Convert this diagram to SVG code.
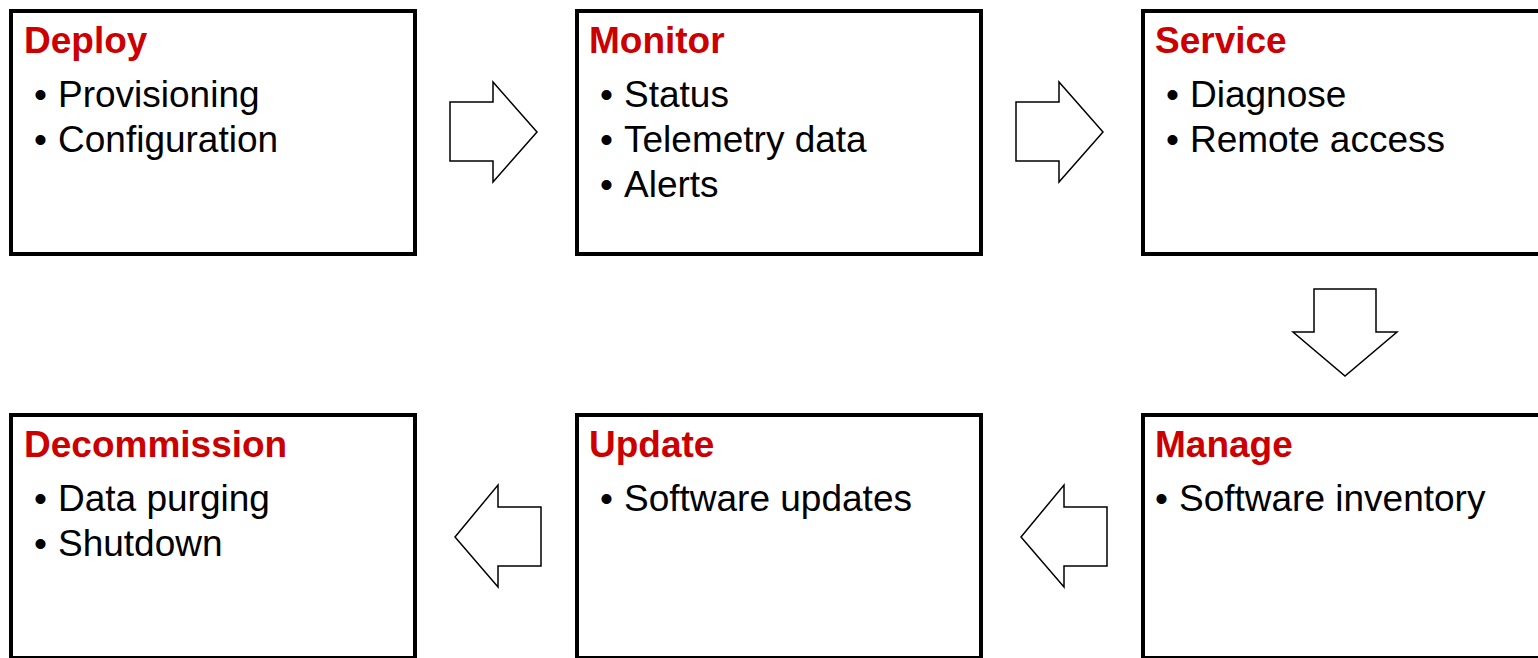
<svg xmlns="http://www.w3.org/2000/svg" width="1538" height="658" viewBox="0 0 1538 658">
<style>
.box{fill:#fff;stroke:#000;stroke-width:4}
.t{font-family:"Liberation Sans",Arial,sans-serif;font-size:37px;font-weight:bold;fill:#cc0000}
.b{font-family:"Liberation Sans",Arial,sans-serif;font-size:37px;fill:#000}
.arr{fill:#fff;stroke:#000;stroke-width:1.5;stroke-linejoin:miter}
</style>
<rect width="1538" height="658" fill="#fff"/>
<g id="deploy">
<rect class="box" x="11" y="11" width="404" height="243"/>
<text class="t" x="24" y="53">Deploy</text>
<text class="b" x="34" y="107">•</text><text class="b" x="58" y="107">Provisioning</text>
<text class="b" x="34" y="152">•</text><text class="b" x="58" y="152">Configuration</text>
</g>
<g id="monitor">
<rect class="box" x="577" y="11" width="404" height="243"/>
<text class="t" x="589" y="53">Monitor</text>
<text class="b" x="600" y="107">•</text><text class="b" x="624" y="107">Status</text>
<text class="b" x="600" y="152">•</text><text class="b" x="624" y="152">Telemetry data</text>
<text class="b" x="600" y="197">•</text><text class="b" x="624" y="197">Alerts</text>
</g>
<g id="service">
<rect class="box" x="1143" y="11" width="404" height="243"/>
<text class="t" x="1155" y="53">Service</text>
<text class="b" x="1166" y="107">•</text><text class="b" x="1190" y="107">Diagnose</text>
<text class="b" x="1166" y="152">•</text><text class="b" x="1190" y="152">Remote access</text>
</g>
<g id="decommission">
<rect class="box" x="11" y="415" width="404" height="243"/>
<text class="t" x="24" y="457">Decommission</text>
<text class="b" x="34" y="511">•</text><text class="b" x="58" y="511">Data purging</text>
<text class="b" x="34" y="556">•</text><text class="b" x="58" y="556">Shutdown</text>
</g>
<g id="update">
<rect class="box" x="577" y="415" width="404" height="243"/>
<text class="t" x="589" y="457">Update</text>
<text class="b" x="600" y="511">•</text><text class="b" x="624" y="511">Software updates</text>
</g>
<g id="manage">
<rect class="box" x="1143" y="415" width="404" height="243"/>
<text class="t" x="1155" y="457">Manage</text>
<text class="b" x="1155" y="511">•</text><text class="b" x="1179" y="511">Software inventory</text>
</g>
<g id="connectors">
<polygon class="arr" points="450,102 493,102 493,82 537,132 493,182 493,161 450,161"/>
<polygon class="arr" points="1016,102 1059,102 1059,82 1103,132 1059,182 1059,161 1016,161"/>
<polygon class="arr" points="1314,289 1376,289 1376,332 1397,332 1345,376 1293,332 1314,332"/>
<polygon class="arr" points="1107,507 1064,507 1064,485 1021,537 1064,587 1064,566 1107,566"/>
<polygon class="arr" points="541,507 498,507 498,485 455,537 498,587 498,566 541,566"/>
</g>
</svg>
